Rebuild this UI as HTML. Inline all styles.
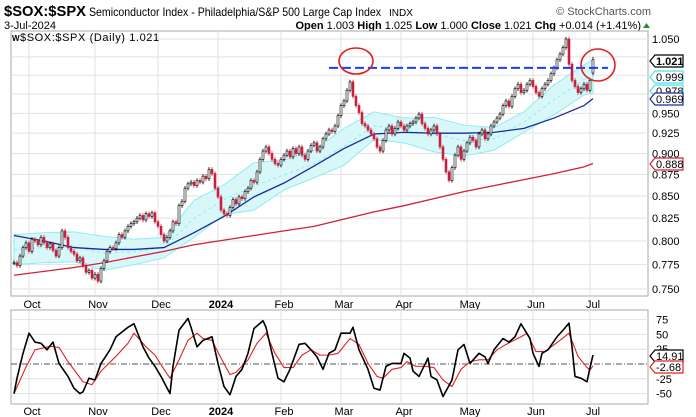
<!DOCTYPE html>
<html><head><meta charset="utf-8"><style>
html,body{margin:0;padding:0;background:#fff;}
svg{display:block;font-family:"Liberation Sans",sans-serif;}
</style></head><body>
<svg id="chart" width="696" height="417" viewBox="0 0 696 417">
<rect x="0" y="0" width="696" height="417" fill="#fff"/>
<text x="4" y="16" font-size="15" font-weight="bold" textLength="82" lengthAdjust="spacingAndGlyphs">$SOX:$SPX</text>
<text x="89" y="16" font-size="12" textLength="292" lengthAdjust="spacingAndGlyphs">Semiconductor Index - Philadelphia/S&amp;P 500 Large Cap Index</text>
<text x="389" y="16" font-size="10">INDX</text>
<text x="651" y="15" font-size="11" fill="#555" text-anchor="end">© StockCharts.com</text>
<text x="4" y="29" font-size="11">3-Jul-2024</text>
<text x="641" y="29" font-size="11" text-anchor="end"><tspan font-weight="bold">Open</tspan> 1.003 <tspan font-weight="bold">High</tspan> 1.025 <tspan font-weight="bold">Low</tspan> 1.000 <tspan font-weight="bold">Close</tspan> 1.021 <tspan font-weight="bold">Chg</tspan> +0.014 (+1.41%)</text>
<polygon points="643,28 650,28 646.5,23" fill="#2a8a2a"/>
<g id="main"></g>
<g id="osc"></g>
</svg>
<script>
const closes = [0.777,0.774,0.784,0.793,0.798,0.789,0.802,0.800,0.796,0.804,
0.798,0.793,0.797,0.790,0.784,0.793,0.811,0.804,0.793,0.789,
0.786,0.779,0.782,0.774,0.767,0.769,0.761,0.765,0.758,0.771,
0.779,0.789,0.793,0.792,0.798,0.807,0.804,0.811,0.816,0.819,
0.821,0.825,0.828,0.823,0.830,0.827,0.831,0.821,0.816,0.807,
0.800,0.804,0.811,0.821,0.819,0.839,0.844,0.859,0.864,0.866,
0.862,0.868,0.866,0.873,0.870,0.881,0.876,0.859,0.849,0.834,
0.830,0.828,0.837,0.846,0.841,0.849,0.847,0.855,0.859,0.868,
0.866,0.878,0.893,0.903,0.908,0.900,0.893,0.888,0.886,0.893,
0.898,0.903,0.896,0.906,0.900,0.908,0.898,0.893,0.903,0.910,
0.913,0.903,0.908,0.918,0.924,0.929,0.927,0.934,0.947,0.960,
0.966,0.980,0.991,0.972,0.960,0.951,0.937,0.934,0.929,0.924,
0.918,0.908,0.903,0.916,0.929,0.934,0.924,0.931,0.939,0.934,
0.929,0.934,0.937,0.939,0.944,0.949,0.937,0.931,0.924,0.929,
0.934,0.924,0.908,0.893,0.878,0.868,0.883,0.898,0.908,0.893,
0.903,0.913,0.920,0.916,0.908,0.924,0.929,0.918,0.924,0.934,
0.939,0.944,0.949,0.960,0.966,0.959,0.972,0.982,0.988,0.977,
0.980,0.988,0.993,0.985,0.977,0.972,0.982,0.988,0.993,1.002,
1.010,1.021,1.029,1.038,1.050,1.015,0.993,0.985,0.977,0.982,
0.988,0.980,0.993,1.021];
const lastOpen = 1.003, lastHigh = 1.025, lastLow = 1.000;
const sampleIdx = [0,10,20,30,40,50,60,70,80,90,100,110,120,130,140,150,160,170,180,190,193];
const ma50 = [0.806,0.800,0.793,0.791,0.791,0.793,0.809,0.827,0.849,0.865,0.885,0.906,0.924,0.926,0.925,0.925,0.926,0.931,0.944,0.960,0.969];
const ma200 = [0.764,0.768,0.772,0.777,0.783,0.789,0.796,0.801,0.806,0.811,0.816,0.824,0.832,0.839,0.847,0.855,0.862,0.869,0.876,0.884,0.888];
const bandUpper = [0.807,0.809,0.810,0.805,0.802,0.804,0.845,0.863,0.889,0.892,0.904,0.931,0.952,0.944,0.945,0.935,0.932,0.952,0.987,1.014,1.021];
const bandLower = [0.775,0.777,0.778,0.769,0.775,0.782,0.804,0.829,0.834,0.857,0.871,0.886,0.917,0.913,0.902,0.897,0.904,0.926,0.948,0.974,0.976];
const resistanceLevel = 1.010, resistanceFrom = 105, resistanceTo = 198;
const priceTicks = [1.050,0.950,0.925,0.900,0.875,0.850,0.825,0.800,0.775,0.750];
const priceGrid = [1.050,1.025,1.000,0.975,0.950,0.925,0.900,0.875,0.850,0.825,0.800,0.775,0.750];
const monthIdx = [5,27,48,68,89,109,129,151,173,192];
const monthLabels = ["Oct","Nov","Dec","2024","Feb","Mar","Apr","May","Jun","Jul"];
const oscKIdx = [0,1,3,5,7,9,11,13,15,18,20,22,23,25,27,29,32,34,36,38,40,43,45,47,49,52,53,55,58,59,61,63,66,68,70,72,74,76,78,80,83,84,86,88,90,92,95,97,99,101,103,105,107,109,112,113,115,118,120,122,124,126,129,130,132,133,135,138,139,141,143,146,148,150,152,155,157,158,160,163,165,167,169,172,173,175,176,178,181,183,185,186,187,189,191,192,193];
const oscK = [-50,-24,18,52,37,35,24,37,1,-21,-41,-50,-47,-24,-27,1,24,46,54,62,68,29,10,-4,-21,-50,-4,57,77,62,29,40,46,1,-38,-52,-21,-9,18,60,73,62,18,-24,-30,-9,33,35,24,12,-9,18,24,52,52,62,24,-9,-41,-44,-4,1,1,18,10,-12,-21,10,-21,-27,-55,-27,24,33,1,18,12,1,24,43,37,46,68,43,18,-4,18,24,46,57,69,29,-21,-24,-30,-6,15];
const oscDIdx = [0,4,7,12,15,18,23,26,29,34,38,40,44,47,50,52,55,58,61,63,66,69,72,74,78,81,84,87,90,93,96,99,102,105,108,112,115,118,121,123,126,129,131,134,137,140,143,146,149,152,155,158,161,164,169,171,174,177,182,185,188,191,192,193];
const oscD = [-50,-5,24,30,28,4,-30,-35,-12,13,35,52,29,15,-9,-24,7,40,52,43,40,10,-18,-14,7,35,52,18,-6,-6,15,24,15,15,18,43,33,1,-21,-24,-9,-6,4,-4,-4,-6,-27,-38,-9,4,7,7,24,33,46,52,21,21,40,52,13,-6,-10,-3];
const oscTicks = [75,50,25,-25,-50];
const oscGrid = [75,50,25,-25,-50];

const NS = "http://www.w3.org/2000/svg";
function mk(tag, attrs, parent){const e=document.createElementNS(NS,tag);for(const k in attrs)e.setAttribute(k,attrs[k]);parent.appendChild(e);return e;}
const PL=11, PR=648, PT=31, PB=296, OT=310, OB=404;
function xs(i){return 14 + 3*i;}
function ys(v){return 39 + 743*Math.log(1.05/v);}
function yo(v){return 364 - v*0.592;}
const main=document.getElementById('main'), osc=document.getElementById('osc');

let r=mk('rect',{x:PL,y:PT,width:PR-PL,height:PB-PT,fill:'#fff',stroke:'#aaa'},main);


priceGrid.forEach(v=>{const l=mk('line',{x1:PL,x2:PR,y1:ys(v),y2:ys(v),stroke:'#e2e2e2'},main);

});
monthIdx.forEach((m,k)=>{const l=mk('line',{x1:xs(m),x2:xs(m),y1:PT,y2:PB,stroke:'#e2e2e2'},main);


const t=mk('text',{x:xs(m)+3,y:308,'font-size':11,'text-anchor':'middle','font-weight':monthLabels[k]==='2024'?'bold':'normal'},main);t.textContent=monthLabels[k];

});

let bp='';sampleIdx.forEach((s,k)=>{bp+=(k?'L':'M')+xs(s)+','+ys(bandUpper[k]);});
for(let k=sampleIdx.length-1;k>=0;k--)bp+='L'+xs(sampleIdx[k])+','+ys(bandLower[k]);
let band=mk('path',{d:bp+'Z',fill:'#d8f7f9',stroke:'#8eecf2','stroke-width':1},main);


let mid='';sampleIdx.forEach((s,k)=>{mid+=(k?'L':'M')+xs(s)+','+ys((bandUpper[k]+bandLower[k])/2);});
let midl=mk('path',{d:mid,fill:'none',stroke:'#8eecf2','stroke-dasharray':'3,3'},main);


function line(arr,color,name){let d='';sampleIdx.forEach((s,k)=>{d+=(k?'L':'M')+xs(s)+','+ys(arr[k]);});
const p=mk('path',{d:d,fill:'none',stroke:color,'stroke-width':1.3},main);

}
line(ma200,'#d0203a','ma200-line');
line(ma50,'#1a2a9a','ma50-line');

closes.forEach((c,i)=>{
 const last=i===closes.length-1;
 const o=last?lastOpen:(i===0?c:closes[i-1]);
 const h=last?lastHigh:Math.max(o,c)*1.003, lo=last?lastLow:Math.min(o,c)*0.997;
 const up=c>=o, col=up?'#000':'#c8203c', x=xs(i);
 const g=mk('g',{},main);
 
 
 mk('line',{x1:x,x2:x,y1:ys(h),y2:ys(lo),stroke:col,'stroke-width':0.8},g);
 const yt=ys(Math.max(o,c)), yb=ys(Math.min(o,c));
 mk('rect',{x:x-1,y:yt,width:2,height:Math.max(1,yb-yt),fill:up?'#fff':col,stroke:col,'stroke-width':0.6},g);
});
let rl=mk('line',{x1:xs(resistanceFrom),x2:xs(resistanceTo),y1:ys(resistanceLevel),y2:ys(resistanceLevel),stroke:'#1a3cff','stroke-width':2,'stroke-dasharray':'9,4'},main);


let e1=mk('ellipse',{cx:356,cy:61,rx:17,ry:13,fill:'none',stroke:'#e02020','stroke-width':1.6},main);


let e2=mk('ellipse',{cx:598,cy:65,rx:17,ry:16,fill:'none',stroke:'#e02020','stroke-width':1.6},main);



let lg=mk('text',{x:20,y:41,'font-size':11,'letter-spacing':'0.6'},main);lg.textContent='$SOX:$SPX (Daily) 1.021';


let ic=mk('text',{x:12,y:41,'font-size':8,'font-weight':'bold'},main);ic.textContent='W';



priceTicks.forEach(v=>{const t=mk('text',{x:652,y:ys(v)+4,'font-size':11},main);t.textContent=v.toFixed(3);

});
function tag(g,y,txt,stroke,bold,name){
 const p=mk('polygon',{points:`650,${y} 655,${y-6} 683,${y-6} 683,${y+6} 655,${y+6}`,fill:'#fff',stroke:stroke,'stroke-width':1.2},g);
 
 
 const t=mk('text',{x:656,y:y+4,'font-size':11,'font-weight':bold?'bold':'normal'},g);t.textContent=txt;
 
 }
tag(main,91,'0.978','#4ee0ea',false,'band-lower-tag');
tag(main,77,'0.999','#4ee0ea',false,'band-mid-tag');
tag(main,61,'1.021','#000',true,'last-price-tag');
tag(main,99,'0.969','#1a2a9a',false,'ma50-tag');
tag(main,164,'0.888','#d0203a',false,'ma200-tag');

let orr=mk('rect',{x:PL,y:OT,width:PR-PL,height:OB-OT,fill:'#fff',stroke:'#aaa'},osc);


oscGrid.forEach(v=>{const l=mk('line',{x1:PL,x2:PR,y1:yo(v),y2:yo(v),stroke:'#e2e2e2'},osc);

});
monthIdx.forEach((m,k)=>{const l=mk('line',{x1:xs(m),x2:xs(m),y1:OT,y2:OB,stroke:'#e2e2e2'},osc);


const t=mk('text',{x:xs(m)+3,y:415,'font-size':11,'text-anchor':'middle','font-weight':monthLabels[k]==='2024'?'bold':'normal'},osc);t.textContent=monthLabels[k];

});
let zl=mk('line',{x1:PL,x2:PR,y1:yo(0),y2:yo(0),stroke:'#555','stroke-dasharray':'6,2,1,2'},osc);


function oline(idx,vals,color,w,name){let d='';idx.forEach((s,k)=>{d+=(k?'L':'M')+xs(s)+','+yo(vals[k]);});
const p=mk('path',{d:d,fill:'none',stroke:color,'stroke-width':w,'stroke-linejoin':'round'},osc);

}
oline(oscDIdx,oscD,'#e02020',1.1,'signal-line');
oline(oscKIdx,oscK,'#000',1.6,'oscillator-line');
oscTicks.forEach(v=>{const t=mk('text',{x:656,y:yo(v)+4,'font-size':11},osc);t.textContent=String(v);

});
tag(osc,356,'14.91','#000',false,'osc-value-tag');
tag(osc,367,'-2.68','#e02020',false,'signal-value-tag');
</script>
</body></html>
